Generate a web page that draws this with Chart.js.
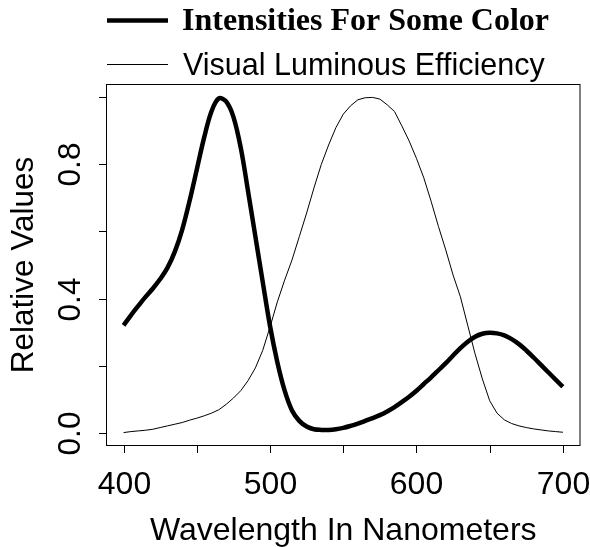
<!DOCTYPE html>
<html>
<head>
<meta charset="utf-8">
<title>Intensities vs Visual Luminous Efficiency</title>
<script src="https://cdn.jsdelivr.net/npm/chart.js@4.4.1/dist/chart.umd.min.js"></script>
<style>
  html, body { margin: 0; padding: 0; background: #fff; }
  #wrap { width: 590px; height: 547px; }
</style>
</head>
<body>
<div id="wrap"><canvas id="chart" width="590" height="547"></canvas></div>
<script>
// ── Data ──────────────────────────────────────────────────────
const wavelengths = [
  400, 405, 410, 415, 420, 425, 430, 435, 440, 445,
  450, 455, 460, 465, 470, 475, 480, 485, 490, 495,
  500, 505, 510, 515, 520, 525, 530, 535, 540, 545,
  550, 555, 560, 565, 570, 575, 580, 585, 590, 595,
  600, 605, 610, 615, 620, 625, 630, 635, 640, 645,
  650, 655, 660, 665, 670, 675, 680, 685, 690, 695, 700
];
const colorIntensity = [
  0.320, 0.350, 0.378, 0.405, 0.430, 0.458, 0.492, 0.540, 0.605, 0.690,
  0.785, 0.880, 0.958, 0.997, 0.988, 0.942, 0.850, 0.720, 0.585, 0.450,
  0.318, 0.210, 0.125, 0.066, 0.035, 0.018, 0.010, 0.008, 0.008, 0.010,
  0.014, 0.020, 0.027, 0.035, 0.043, 0.052, 0.063, 0.076, 0.091, 0.107,
  0.125, 0.145, 0.165, 0.186, 0.207, 0.230, 0.252, 0.271, 0.286, 0.295,
  0.298, 0.296, 0.290, 0.279, 0.264, 0.245, 0.224, 0.202, 0.180, 0.158, 0.137
];
const luminousEff = [
  0.000, 0.003, 0.005, 0.007, 0.010, 0.015, 0.020, 0.025, 0.030, 0.037,
  0.043, 0.050, 0.058, 0.068, 0.084, 0.103, 0.125, 0.155, 0.193, 0.245,
  0.315, 0.390, 0.455, 0.515, 0.585, 0.655, 0.730, 0.800, 0.858, 0.910,
  0.950, 0.975, 0.993, 0.999, 1.000, 0.995, 0.978, 0.958, 0.915, 0.870,
  0.818, 0.760, 0.690, 0.615, 0.545, 0.470, 0.405, 0.320, 0.235, 0.160,
  0.095, 0.058, 0.038, 0.027, 0.020, 0.015, 0.011, 0.008, 0.005, 0.003, 0.001
];
const seriesNames = ['Intensities For Some Color', 'Visual Luminous Efficiency'];
const xTicks      = [400, 450, 500, 550, 600, 650, 700];
const xTickLabels = ['400', '', '500', '', '600', '', '700'];
const yTicks      = [0, 0.2, 0.4, 0.6, 0.8, 1.0];
const yTickLabels = ['0.0', '', '0.4', '', '0.8', ''];
const xTitle = 'Wavelength In Nanometers';
const yTitle = 'Relative Values';

const SANS  = '"Liberation Sans", Arial, Helvetica, sans-serif';
const SERIF = '"Liberation Serif", "Times New Roman", serif';

const toPoints = ys => wavelengths.map((x, i) => ({ x, y: ys[i] }));

// ── R-style frame, axes and legend ────────────────────────────
const baseGraphics = {
  id: 'baseGraphics',
  afterDraw(chart) {
    const { ctx, chartArea: a, scales: { x, y } } = chart;
    ctx.save();
    ctx.strokeStyle = '#000';
    ctx.fillStyle   = '#000';
    ctx.lineWidth   = 1;

    // box
    ctx.strokeRect(a.left + 0.5, a.top + 0.5, a.right - a.left - 1, a.bottom - a.top - 1);

    // x axis ticks + labels
    ctx.font = `32px ${SANS}`;
    ctx.textAlign = 'center';
    ctx.textBaseline = 'alphabetic';
    xTicks.forEach((v, i) => {
      const px = Math.round(x.getPixelForValue(v)) + 0.5;
      ctx.beginPath();
      ctx.moveTo(px, a.bottom);
      ctx.lineTo(px, a.bottom + 7);
      ctx.stroke();
      if (xTickLabels[i]) ctx.fillText(xTickLabels[i], px, 494);
    });
    ctx.fillText(xTitle, (a.left + a.right) / 2, 540);

    // y axis ticks + rotated labels
    ctx.font = `31.5px ${SANS}`;
    yTicks.forEach((v, i) => {
      const py = Math.round(y.getPixelForValue(v)) + 0.5;
      ctx.beginPath();
      ctx.moveTo(a.left, py);
      ctx.lineTo(a.left - 7, py);
      ctx.stroke();
      if (yTickLabels[i]) {
        ctx.save();
        ctx.translate(80, py);
        ctx.rotate(-Math.PI / 2);
        ctx.fillText(yTickLabels[i], 0, 0);
        ctx.restore();
      }
    });
    ctx.save();
    ctx.translate(33, (a.top + a.bottom) / 2);
    ctx.rotate(-Math.PI / 2);
    ctx.fillText(yTitle, 0, 0);
    ctx.restore();

    // legend
    ctx.textAlign = 'left';
    ctx.lineCap = 'butt';
    ctx.lineWidth = 4.5;
    ctx.beginPath(); ctx.moveTo(107, 20.5); ctx.lineTo(168, 20.5); ctx.stroke();
    ctx.lineWidth = 1;
    ctx.beginPath(); ctx.moveTo(107, 64.5); ctx.lineTo(168, 64.5); ctx.stroke();
    ctx.font = `bold 32px ${SERIF}`;
    ctx.fillText(seriesNames[0], 182, 30);
    ctx.font = `30.5px ${SANS}`;
    ctx.fillText(seriesNames[1], 183, 75);

    ctx.restore();
  }
};

new Chart(document.getElementById('chart'), {
  type: 'line',
  data: {
    datasets: [
      {
        label: seriesNames[0],
        data: toPoints(colorIntensity),
        borderColor: '#000',
        borderWidth: 4.5,
        tension: 0.35,
        pointRadius: 0,
      },
      {
        label: seriesNames[1],
        data: toPoints(luminousEff),
        borderColor: '#000',
        borderWidth: 1,
        tension: 0,
        pointRadius: 0,
      },
    ],
  },
  options: {
    responsive: false,
    animation: false,
    devicePixelRatio: 1,
    layout: { padding: { left: 106, top: 84, right: 9.5, bottom: 101 } },
    plugins: { legend: { display: false }, tooltip: { enabled: false } },
    scales: {
      x: { type: 'linear', min: 388, max: 712, display: false },
      y: { type: 'linear', min: -0.04, max: 1.04, display: false },
    },
  },
  plugins: [baseGraphics],
});
</script>
</body>
</html>
